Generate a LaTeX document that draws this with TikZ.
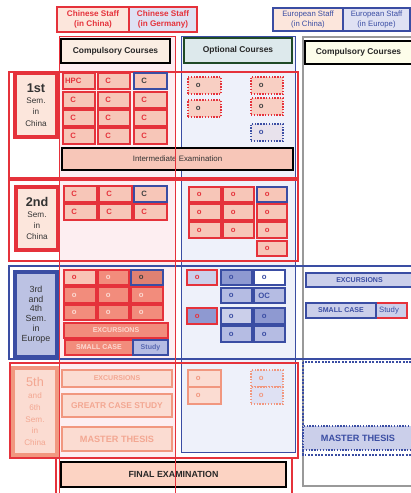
\documentclass[tikz,border=0pt]{standalone}
\usepackage{fontspec}
\setmainfont{Liberation Sans}

\definecolor{cred}{HTML}{E5323B}
\definecolor{cblue}{HTML}{3A4DA3}
\definecolor{cpeach}{HTML}{FCE6DC}
\definecolor{clav}{HTML}{DFE1F3}
\definecolor{cpink}{HTML}{FDEEF1}
\definecolor{cice}{HTML}{EEF1FA}
\definecolor{csal}{HTML}{F7C6B8}
\definecolor{csalmid}{HTML}{F9C4B6}
\definecolor{csaldark}{HTML}{F28C7C}
\definecolor{csaltx}{HTML}{FCDAD2}
\definecolor{cgreen}{HTML}{1F4A27}
\definecolor{cmint}{HTML}{DDE9EC}
\definecolor{ccream}{HTML}{FDFDEA}
\definecolor{cbeige}{HTML}{FBEEE3}
\definecolor{cbluedark}{HTML}{8E99D1}
\definecolor{cbluemid}{HTML}{B5BCE3}
\definecolor{cbluelight}{HTML}{CBCFEA}
\definecolor{cfade}{HTML}{F1977F}
\definecolor{cfadefill}{HTML}{FBDCD2}
\definecolor{cfadetx}{HTML}{F3A792}
\definecolor{cfinal}{HTML}{FCD3C3}

\begin{document}
\begin{tikzpicture}[
    x=0.025cm, y=-0.025cm,
    every node/.style={inner sep=0pt},
    spot/.style args={#1/#2/#3/#4}{at={({(#1+#3)/2},{(#2+#4)/2})},
      minimum width={(#3-#1)*0.025cm}, minimum height={(#4-#2)*0.025cm}},
    staff/.style={draw=#1, text=#1, line width=0.9pt, align=center, font=\fontsize{5.8}{6.6}\selectfont\bfseries},
    heading/.style={line width=2pt, text=black!85, font=\fontsize{6}{7}\selectfont\bfseries},
    rowframe/.style={draw=cred, line width=1.4pt},
    semester/.style={line width=2.6pt, align=center, text=black!80, font=\fontsize{5.8}{8}\selectfont},
    course/.style={draw=cred, fill=csal, line width=1pt},
    optbox/.style={course, densely dotted, fill=csal!85!white},
    block/.style={course, font=\fontsize{5}{6}\selectfont\bfseries},
    eubox/.style={draw=cblue, fill=cbluemid, line width=1pt},
    fadebox/.style={draw=cfade, fill=cfadefill, line width=1pt, text=cfadetx, font=\fontsize{6}{7}\selectfont\bfseries},
    tag/.style={anchor=center, xshift=7.8pt, font=\fontsize{5.5}{6}\selectfont\bfseries},
    redtx/.style={label={[tag, text=cred]left:#1}},
    darktx/.style={label={[tag, text=black!75]left:#1}},
    bluetx/.style={label={[tag, text=cblue]left:#1}},
    pinktx/.style={label={[tag, text=csaltx]left:#1}},
    fadetx/.style={label={[tag, text=cfade]left:#1}},
  ]
  \useasboundingbox (0,0) rectangle (410,493);

  % columns
  \fill[cpink] (59,36) rectangle (175,496);
  \draw[cblue, line width=0.6pt, fill=cice] (181,36) rectangle (295,452);
  \draw[black!40, line width=0.9pt] (303,37) rectangle (416,486);

  % staff
  \node[staff=cred, fill=cpeach, spot=57/7/129/32] (staffCN) {Chinese Staff\\(in China)};
  \node[staff=cred, fill=clav, spot=129/7/197/32] (staffDE) {Chinese Staff\\(in Germany)};
  \node[staff=cblue, fill=cpeach, font=\fontsize{5.5}{6.5}\selectfont, spot=273/8/343/31] (staffEC) {European Staff\\(in China)};
  \node[staff=cblue, fill=clav, font=\fontsize{5.5}{6.5}\selectfont, spot=343/8/410/31] (staffEE) {European Staff\\(in Europe)};

  % headings
  \node[heading, draw=black, fill=cbeige, spot=61/39/170/63] (compCN) {Compulsory Courses};
  \node[heading, draw=cgreen, fill=cmint, spot=184/38/292/63] (optCN) {Optional Courses};
  \node[heading, draw=black, fill=ccream, spot=305/41/412/64] (compEU) {Compulsory Courses};

  % 1st semester
  \draw[rowframe] (9,72) rectangle (298,178);
  \node[semester, draw=cred, fill=cpeach, spot=15/73/57/137] (sem1)
    {{\fontsize{9}{10}\selectfont\bfseries 1st}\\Sem.\\in\\China};
  \node[course, redtx=HPC, spot=63/73/95/89] (c1-1-1) {};
  \node[course, redtx=C, spot=98/73/130/89] (c1-1-2) {};
  \node[course, draw=cblue, darktx=C, spot=134/73/167/89] (c1-1-3) {};
  \foreach \r/\ya/\yb in {2/92/108, 3/110/126, 4/128/144}
    \foreach \c/\xa/\xb in {1/63/95, 2/98/130, 3/134/167}
      \node[course, redtx=C, spot=\xa/\ya/\xb/\yb] (c1-\r-\c) {};
  \node[course, draw=black, line width=1.8pt, text=black!80, font=\fontsize{5.6}{6}\selectfont,
    spot=62/148/293/170] (midExam) {Intermediate Examination};
  \node[optbox, darktx=o, spot=188/77/221/94] (o1-1) {};
  \node[optbox, darktx=o, spot=188/100/221/117] (o1-2) {};
  \node[optbox, darktx=o, spot=251/77/283/94] (o1-3) {};
  \node[optbox, darktx=o, spot=251/98/283/115] (o1-4) {};
  \node[optbox, draw=cblue, fill=clav!70!cpeach, bluetx=o, spot=251/124/283/141] (o1-5) {};

  % 2nd semester
  \draw[rowframe] (9,180) rectangle (298,261);
  \node[semester, draw=cred, fill=cpeach, spot=16/187/58/250] (sem2)
    {{\fontsize{9}{10}\selectfont\bfseries 2nd}\\Sem.\\in\\China};
  \node[course, redtx=C, spot=64/186/97/202] (c2-1-1) {};
  \node[course, redtx=C, spot=99/186/132/202] (c2-1-2) {};
  \node[course, draw=cblue, darktx=C, spot=134/186/167/202] (c2-1-3) {};
  \foreach \c/\xa/\xb in {1/64/97, 2/99/132, 3/134/167}
    \node[course, redtx=C, spot=\xa/204/\xb/220] (c2-2-\c) {};
  \node[course, redtx=o, spot=189/187/221/202] (o2-1-1) {};
  \node[course, redtx=o, spot=223/187/254/202] (o2-1-2) {};
  \node[course, draw=cblue, redtx=o, spot=257/187/287/202] (o2-1-3) {};
  \foreach \r/\ya/\yb in {2/204/220, 3/222/238}
    \foreach \c/\xa/\xb in {1/189/221, 2/223/254, 3/257/287}
      \node[course, redtx=o, spot=\xa/\ya/\xb/\yb] (o2-\r-\c) {};
  \node[course, redtx=o, spot=257/241/287/256] (o2-4-3) {};

  % 3rd and 4th semester
  \draw[rowframe, draw=cblue, line width=1.6pt] (9,266) rectangle (413,359);
  \node[semester, draw=cblue, fill=cbluelight!90!cblue, font=\fontsize{6.3}{6.9}\selectfont,
    spot=15/272/57/357] (sem34) {3rd\\and\\4th\\Sem.\\in\\Europe};
  \node[course, fill=csalmid, redtx=o, spot=64/270/96/285] (o3-1-1) {};
  \node[course, fill=csaldark, pinktx=o, spot=98/270/129/285] (o3-1-2) {};
  \node[course, draw=cblue, fill=csaldark!92!black, darktx=o, spot=131/270/163/285] (o3-1-3) {};
  \foreach \r/\ya/\yb in {2/287/303, 3/305/320}
    \foreach \c/\xa/\xb in {1/64/96, 2/98/129, 3/131/163}
      \node[course, fill=csaldark, pinktx=o, spot=\xa/\ya/\xb/\yb] (o3-\r-\c) {};
  \node[block, fill=csaldark, text=csaltx, spot=64/323/168/338] (exc34) {EXCURSIONS};
  \node[block, fill=csaldark, text=csaltx, spot=65/340/133/355] (case34) {SMALL CASE};
  \node[block, draw=cblue, fill=cbluemid, text=cblue!85, spot=133/340/168/355] (study34) {Study};
  \node[eubox, draw=cred, fill=cbluelight, redtx=o, spot=187/270/217/285] (q1) {};
  \node[eubox, fill=cbluedark, bluetx=o, spot=221/270/252/285] (q2) {};
  \node[eubox, fill=white, bluetx=o, spot=254/270/285/285] (q3) {};
  \node[eubox, bluetx=o, spot=221/288/252/303] (q4) {};
  \node[eubox, bluetx=OC, spot=254/288/285/303] (q5) {};
  \node[eubox, draw=cred, fill=cbluedark, redtx=o, spot=187/308/217/324] (q6) {};
  \node[eubox, fill=cbluelight, bluetx=o, spot=221/308/252/324] (q7) {};
  \node[eubox, fill=cbluedark, bluetx=o, spot=254/308/285/324] (q8) {};
  \node[eubox, bluetx=o, spot=221/326/252/342] (q9) {};
  \node[eubox, bluetx=o, spot=254/326/285/342] (q10) {};
  \node[eubox, fill=cbluelight, text=cblue, font=\fontsize{5}{6}\selectfont\bfseries,
    spot=306/273/413/287] (excEU) {EXCURSIONS};
  \node[eubox, draw=cred, fill=cbluelight, text=cblue, font=\fontsize{5.5}{6}\selectfont,
    spot=371/303/407/318] (studyEU) {Study};
  \node[eubox, fill=cbluelight, text=cblue, font=\fontsize{5}{6}\selectfont\bfseries,
    spot=306/303/376/318] (caseEU) {SMALL CASE};

  % 5th and 6th semester
  \draw[rowframe, line width=1.6pt] (10,363) rectangle (298,458);
  \node[semester, draw=cfade, fill=cfadefill, text=cfadetx, font=\fontsize{5.8}{8.5}\selectfont,
    spot=13/368/57/455] (sem56) {{\fontsize{9}{10}\selectfont 5th}\\and\\6th\\Sem.\\in\\China};
  \node[fadebox, font=\fontsize{5}{6}\selectfont\bfseries, spot=62/370/172/387] (exc56) {EXCURSIONS};
  \node[fadebox, spot=62/394/172/417] (case56) {GREATR CASE STUDY};
  \node[fadebox, font=\fontsize{6.5}{7}\selectfont\bfseries, spot=62/427/172/451] (thesis56) {MASTER THESIS};
  \node[fadebox, fadetx=o, spot=188/370/221/387] (o4-1) {};
  \node[fadebox, fadetx=o, spot=188/387/221/404] (o4-2) {};
  \node[fadebox, densely dotted, fill=clav, fadetx=o, spot=251/370/283/387] (o4-3) {};
  \node[fadebox, densely dotted, fill=clav, fadetx=o, spot=251/387/283/404] (o4-4) {};
  \draw[cblue, densely dotted, line width=1.4pt] (303,362) rectangle (416,455);
  \node[eubox, densely dotted, line width=2pt, fill=cbluelight, text=cblue,
    font=\fontsize{6.5}{7}\selectfont\bfseries, spot=303/426/413/450] (thesisEU) {MASTER THESIS};

  % final examination
  \node[draw=cred, line width=1.6pt, fill=white, spot=56/458/292/496] (finalFrame) {};
  \node[draw=black, line width=2pt, fill=cfinal, text=black!85, font=\fontsize{6.3}{7}\selectfont\bfseries,
    spot=61/462/286/487] (finalExam) {FINAL EXAMINATION};

  % column outline on top
  \draw[cred, line width=0.6pt] (59,36) rectangle (175,496);
\end{tikzpicture}
\end{document}
